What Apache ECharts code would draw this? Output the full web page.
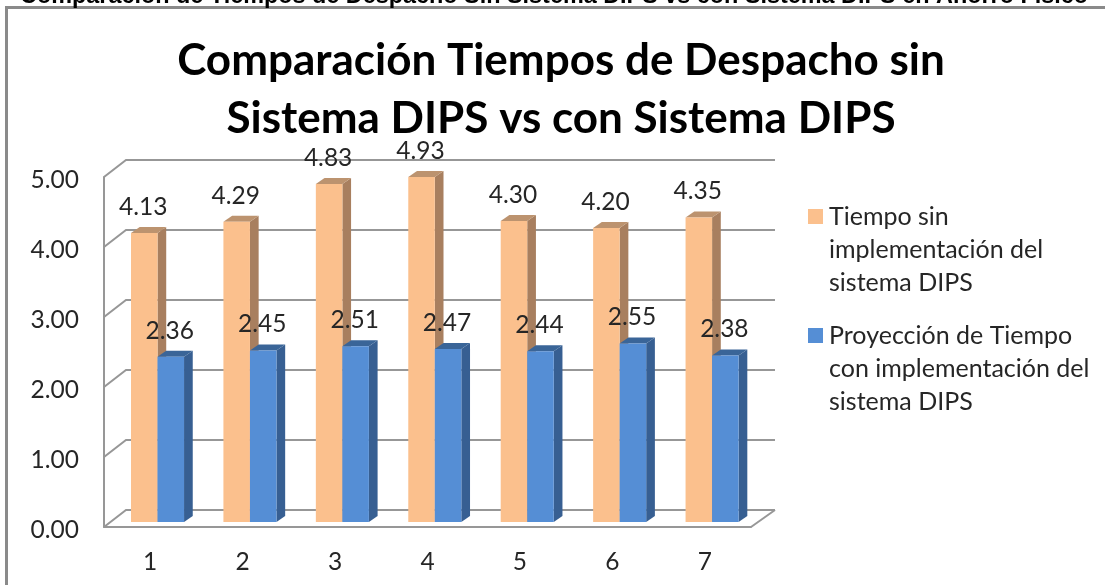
<!DOCTYPE html>
<html>
<head>
<meta charset="utf-8">
<style>html,body{margin:0;padding:0;background:#fff;overflow:hidden}#c{width:1105px;height:585px}</style>
<script src="https://cdn.jsdelivr.net/npm/echarts@6/dist/echarts.min.js"></script>
</head>
<body>
<div id="c"></div>
<script>
const categories = ['1','2','3','4','5','6','7'];
const tiempoSin = [4.13,4.29,4.83,4.93,4.30,4.20,4.35];
const tiempoCon = [2.36,2.45,2.51,2.47,2.44,2.55,2.38];
const yTicks = [0,1,2,3,4,5];
const nameSin = 'Tiempo sin\nimplementación del\nsistema DIPS';
const nameCon = 'Proyección de Tiempo\ncon implementación del\nsistema DIPS';
const titleText = 'Comparación Tiempos de Despacho sin\nSistema DIPS vs con Sistema DIPS';
const headerText = 'Comparación de Tiempos de Despacho Sin Sistema DIPS vs con Sistema DIPS en Ahorro Físico';

const FONT = 'Lato';
const TXT = '#262626';
const GRID_C = '#979797';
const WALL_DX = 22, WALL_DY = -17;
const BAR_DX = 8.7, BAR_DY = -6;
const LEGEND_ICON = 'path://M0,0L0,0M0,99L0,99M0,9H15V24H0Z';

function wall(params, api) {
  const v = api.value(0);
  const p = api.coord([0, v]);
  const cs = params.coordSys;
  const left = cs.x, right = cs.x + cs.width;
  const style = {stroke: GRID_C, lineWidth: 2, fill: null};
  const children = [{type:'polyline', shape:{points:[[left,p[1]],[left+WALL_DX,p[1]+WALL_DY],[right+WALL_DX+2,p[1]+WALL_DY]]}, style}];
  if (v === 0) children.push({type:'line', shape:{x1:right,y1:p[1],x2:right+WALL_DX+2,y2:p[1]+WALL_DY}, style});
  return {type:'group', children};
}

function barRender(off0, off1, colors) {
  return function (params, api) {
    const i = api.value(0), v = api.value(1);
    const top = api.coord([i, v]);
    const base = api.coord([i, 0]);
    const band = api.size([1, 0])[0];
    const baseY = base[1] - 5;
    const topY = top[1] - 5;
    const x0 = top[0] + off0 * band, x1 = top[0] + off1 * band;
    return {type:'group', children:[
      {type:'polygon', shape:{points:[[x1,topY],[x1+BAR_DX,topY+BAR_DY],[x1+BAR_DX,baseY+BAR_DY],[x1,baseY]]}, style:{fill:colors[1]}},
      {type:'polygon', shape:{points:[[x0,topY],[x0+BAR_DX,topY+BAR_DY],[x1+BAR_DX,topY+BAR_DY],[x1,topY]]}, style:{fill:colors[2]}},
      {type:'rect', shape:{x:x0,y:topY,width:x1-x0,height:baseY-topY}, style:{fill:colors[0]}},
      {type:'text', z2:100, style:{text:v.toFixed(2), x:(x0+x1)/2-1, y:topY-26, align:'center', verticalAlign:'middle', fill:TXT, font:'24.5px '+FONT}}
    ]};
  };
}

const chart = echarts.init(document.getElementById('c'), null, {renderer:'canvas'});
chart.setOption({
  animation:false,
  backgroundColor:'#fff',
  title:{
    text:titleText, left:556, top:27, textAlign:'center',
    textStyle:{fontFamily:FONT, fontWeight:'bold', fontSize:44, lineHeight:58, color:'#000'}
  },
  legend:{
    orient:'vertical', left:803, top:195, itemWidth:15, itemHeight:99, itemGap:20,
    selectedMode:false, align:'left',
    textStyle:{fontFamily:FONT, fontSize:25, lineHeight:33, color:TXT, padding:[0,0,0,1]},
    data:[
      {name:nameSin, icon:LEGEND_ICON},
      {name:nameCon, icon:LEGEND_ICON}
    ]
  },
  grid:{left:104, right:354, top:177, bottom:58},
  xAxis:{
    type:'category', data:categories,
    axisLine:{lineStyle:{color:GRID_C,width:2}}, axisTick:{show:false},
    axisLabel:{fontFamily:FONT,fontSize:24.5,color:TXT,margin:23}
  },
  yAxis:{
    type:'value', min:0, max:5, interval:1,
    axisLine:{show:true,lineStyle:{color:GRID_C,width:2}}, axisTick:{show:false},
    splitLine:{show:false},
    axisLabel:{fontFamily:FONT,fontSize:24.5,color:TXT,margin:25,verticalAlign:'top',lineHeight:6,formatter:v=>v.toFixed(2)}
  },
  graphic:[
    {type:'polyline', silent:true, z:0, shape:{points:[[6.5,585],[6.5,7.5],[1105,7.5]]}, style:{stroke:'#8a8a8a',lineWidth:3,fill:null}},
    {type:'text', silent:true, z:5, style:{text:headerText, x:20, y:-15, fill:'#000', font:'bold 23.4px "Liberation Sans"'}}
  ],
  series:[
    {type:'custom', name:'muro', silent:true, z:1, data:yTicks.map(v=>[v]), renderItem:wall, encode:{y:0}, clip:false},
    {type:'custom', name:nameSin, z:2, itemStyle:{color:'#FBC08D'}, data:tiempoSin.map((v,i)=>[i,v]), encode:{x:0,y:1}, clip:false,
      renderItem:barRender(-0.208,0.079,['#FBC08D','#A87F5F','#BC936F'])},
    {type:'custom', name:nameCon, z:3, itemStyle:{color:'#558ED5'}, data:tiempoCon.map((v,i)=>[i,v]), encode:{x:0,y:1}, clip:false,
      renderItem:barRender(0.079,0.366,['#558ED5','#375F92','#3A6598'])}
  ]
});
</script>
</body>
</html>
